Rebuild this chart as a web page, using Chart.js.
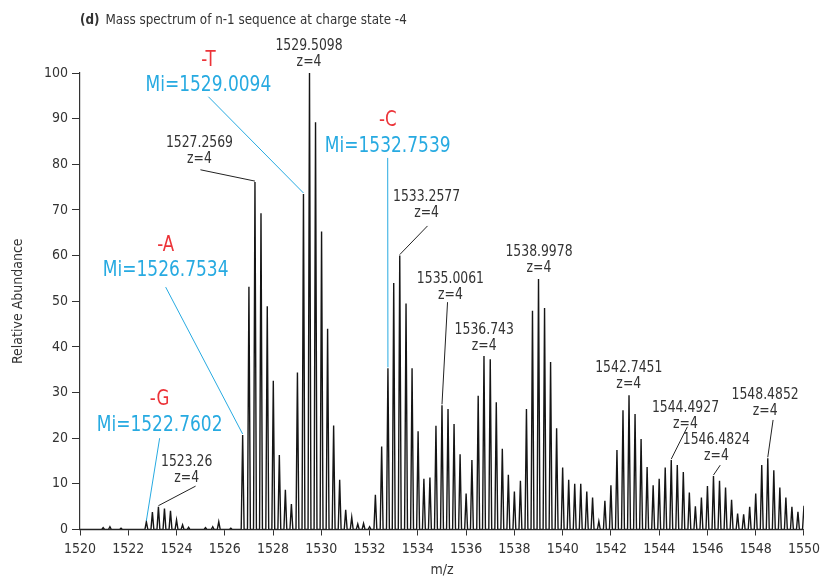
<!DOCTYPE html>
<html>
<head>
<meta charset="utf-8">
<script src="https://cdn.jsdelivr.net/npm/chart.js@4"></script>
<style>
  html, body { margin: 0; padding: 0; background: #fff; }
</style>
</head>
<body>
<canvas id="espectro" width="825" height="579"></canvas>
<script>
// Picos do espectro (m/z e abundância relativa)
const mzPicos = [
  1520.96, 1521.24, 1521.70, 1522.75, 1523.00, 1523.25, 1523.50, 1523.75, 1524.00, 1524.25,
  1524.50, 1525.20, 1525.50, 1525.75, 1526.25, 1526.74, 1527.00, 1527.25, 1527.50, 1527.76,
  1528.01, 1528.26, 1528.51, 1528.76, 1529.01, 1529.26, 1529.51, 1529.76, 1530.01, 1530.26,
  1530.51, 1530.76, 1531.01, 1531.26, 1531.51, 1531.75, 1532.00, 1532.24, 1532.50, 1532.76,
  1533.00, 1533.25, 1533.51, 1533.76, 1534.01, 1534.25, 1534.50, 1534.75, 1535.00, 1535.25,
  1535.50, 1535.75, 1536.00, 1536.24, 1536.50, 1536.74, 1537.00, 1537.25, 1537.50, 1537.75,
  1538.00, 1538.25, 1538.50, 1538.75, 1539.00, 1539.25, 1539.50, 1539.75, 1540.00, 1540.25,
  1540.50, 1540.75, 1541.00, 1541.24, 1541.50, 1541.75, 1542.00, 1542.25, 1542.50, 1542.75,
  1543.00, 1543.25, 1543.50, 1543.75, 1544.00, 1544.25, 1544.50, 1544.75, 1545.00, 1545.25,
  1545.50, 1545.75, 1546.00, 1546.25, 1546.50, 1546.75, 1547.00, 1547.25, 1547.50, 1547.75,
  1548.00, 1548.25, 1548.50, 1548.75, 1549.00, 1549.25, 1549.50, 1549.75, 1550.00
];
const abundancia = [
  0.4, 0.6, 0.3, 1.7, 3.8, 5.0, 4.6, 4.1, 2.1, 1.0,
  0.5, 0.4, 0.6, 1.7, 0.3, 20.7, 53.2, 76.1, 69.3, 48.9,
  32.6, 16.3, 8.7, 5.6, 34.4, 73.5, 100, 89.2, 65.3, 44.0,
  22.8, 10.9, 4.3, 2.7, 1.2, 1.3, 0.6, 7.6, 18.2, 35.3,
  54.0, 60.0, 49.5, 35.3, 21.5, 11.1, 11.4, 22.7, 27.2, 26.4,
  23.1, 16.5, 7.9, 15.2, 29.3, 38.0, 37.3, 27.9, 17.7, 12.0,
  8.3, 10.7, 26.4, 47.9, 54.9, 48.5, 36.7, 22.2, 13.6, 10.9,
  10.0, 10.0, 8.3, 7.0, 1.8, 6.3, 9.7, 17.4, 26.1, 29.4,
  25.3, 19.8, 13.7, 9.7, 11.1, 13.6, 15.2, 14.1, 12.6, 8.1,
  5.1, 7.0, 9.5, 11.7, 10.7, 9.2, 6.5, 3.5, 3.3, 5.0,
  7.9, 14.1, 15.6, 13.0, 9.2, 7.0, 5.0, 3.9, 5.2
];
const ticksX = [1520, 1522, 1524, 1526, 1528, 1530, 1532, 1534, 1536, 1538, 1540, 1542, 1544, 1546, 1548, 1550];
const ticksY = [0, 10, 20, 30, 40, 50, 60, 70, 80, 90, 100];

// Rótulos dos picos (texto e pico indicado)
const rotulosTexto = ['1529.5098', '1527.2569', '1533.2577', '1535.0061', '1536.743', '1538.9978',
  '1542.7451', '1544.4927', '1546.4824', '1548.4852', '1523.26'];
const rotulosPico = [1529.51, 1527.25, 1533.25, 1535.00, 1536.74, 1539.00,
  1542.75, 1544.50, 1546.25, 1548.50, 1523.25];

// Perdas de base e massa monoisotópica
const perdas = ['-T', '-C', '-A', '-G'];
const massasMi = ['Mi=1529.0094', 'Mi=1532.7539', 'Mi=1526.7534', 'Mi=1522.7602'];
const perdasPico = [1529.26, 1532.76, 1526.74, 1522.75];

// Posição dos rótulos (em unidades do gráfico), separada dos dados
const posRotulos = [
  { ancora: [1529.49, 105.8] },
  { ancora: [1524.95, 84.7], guia: [1524.99, 78.8] },
  { ancora: [1534.36, 72.8], guia: [1534.40, 66.5] },
  { ancora: [1535.35, 54.9], guia: [1535.23, 49.8] },
  { ancora: [1536.75, 43.7] },
  { ancora: [1539.02, 60.8] },
  { ancora: [1542.74, 35.4] },
  { ancora: [1545.09, 26.6], guia: [1545.17, 22.5] },
  { ancora: [1546.37, 19.6], guia: [1546.53, 14.1] },
  { ancora: [1548.39, 29.5], guia: [1548.72, 24.0] },
  { ancora: [1524.42, 14.8], guia: [1524.79, 9.5] }
];
const posPerdas = [
  { ancora: [1525.32, 102.8], guia: [1525.32, 94.8] },
  { ancora: [1532.75, 89.5], guia: [1532.75, 81.4] },
  { ancora: [1523.55, 62.3], guia: [1523.55, 53.1] },
  { ancora: [1523.30, 28.4], guia: [1523.30, 20.0] }
];

const FONTE = '"Liberation Sans Narrow", "DejaVu Sans Condensed", "Roboto", sans-serif';
const VERMELHO = '#ec3338';
const CIANO = '#27aae1';
const MEIA_LARGURA = 0.06;

// Monta o perfil (cada pico vira um triângulo estreito sobre a linha de base)
const perfil = [{ x: 1520, y: 0 }];
mzPicos.forEach((mz, i) => {
  perfil.push({ x: mz - MEIA_LARGURA, y: 0 });
  perfil.push({ x: mz, y: abundancia[i] });
  perfil.push({ x: mz + MEIA_LARGURA, y: 0 });
});

function alturaDoPico(mz) {
  let melhor = 0;
  mzPicos.forEach((m, i) => {
    if (Math.abs(m - mz) < Math.abs(mzPicos[melhor] - mz)) melhor = i;
  });
  return abundancia[melhor];
}

// texto estreitado horizontalmente (a fonte original é condensada)
function textoEstreito(ctx, txt, x, y, fator, alinhamento) {
  ctx.save();
  ctx.translate(x, y);
  ctx.scale(fator, 1);
  ctx.textAlign = alinhamento || 'center';
  ctx.fillText(txt, 0, 0);
  ctx.restore();
}

const pluginAnotacoes = {
  id: 'anotacoes',
  afterDraw(chart) {
    const { ctx, scales: { x, y } } = chart;
    const px = v => x.getPixelForValue(v);
    const py = v => y.getPixelForValue(v);
    ctx.save();
    ctx.textBaseline = 'middle';

    // título
    ctx.fillStyle = '#333';
    ctx.font = 'bold 14px ' + FONTE;
    textoEstreito(ctx, '(d)', 80, 20, 0.95, 'left');
    const w = ctx.measureText('(d)').width * 0.95;
    ctx.font = '14px ' + FONTE;
    textoEstreito(ctx, 'Mass spectrum of n-1 sequence at charge state -4', 80 + w + 6, 20, 0.95, 'left');

    // rótulos pretos
    rotulosTexto.forEach((txt, i) => {
      const p = posRotulos[i];
      const ax = px(p.ancora[0]), ay = py(p.ancora[1]);
      ctx.fillStyle = '#333';
      ctx.font = '15px ' + FONTE;
      textoEstreito(ctx, txt, ax, ay, 0.92);
      textoEstreito(ctx, 'z=4', ax, ay + 16, 0.92);
      if (p.guia) {
        ctx.strokeStyle = '#222';
        ctx.lineWidth = 1;
        ctx.beginPath();
        ctx.moveTo(px(p.guia[0]), py(p.guia[1]));
        ctx.lineTo(px(rotulosPico[i]), py(alturaDoPico(rotulosPico[i])) - 1);
        ctx.stroke();
      }
    });

    // perdas (vermelho) e Mi (ciano)
    perdas.forEach((txt, i) => {
      const p = posPerdas[i];
      const ax = px(p.ancora[0]), ay = py(p.ancora[1]);
      ctx.fillStyle = VERMELHO;
      ctx.font = '21px ' + FONTE;
      textoEstreito(ctx, txt, ax, ay, 0.88);
      ctx.fillStyle = CIANO;
      ctx.font = '22px ' + FONTE;
      textoEstreito(ctx, massasMi[i], ax, ay + 25, 0.86);
      ctx.strokeStyle = CIANO;
      ctx.lineWidth = 1;
      ctx.beginPath();
      ctx.moveTo(px(p.guia[0]), py(p.guia[1]));
      ctx.lineTo(px(perdasPico[i]), py(alturaDoPico(perdasPico[i])) - 1);
      ctx.stroke();
    });
    ctx.restore();
  }
};

const ctx = document.getElementById('espectro').getContext('2d');
new Chart(ctx, {
  type: 'scatter',
  data: {
    datasets: [{
      data: perfil,
      showLine: true,
      borderColor: '#151515',
      borderWidth: 1.4,
      pointRadius: 0,
      tension: 0,
      clip: 0
    }]
  },
  options: {
    responsive: false,
    animation: false,
    devicePixelRatio: 1,
    layout: { padding: { top: 73, right: 18, left: 0, bottom: 0 } },
    plugins: { legend: { display: false }, tooltip: { enabled: false } },
    scales: {
      x: {
        type: 'linear',
        min: 1520,
        max: 1550,
        afterBuildTicks: s => { s.ticks = ticksX.map(v => ({ value: v })); },
        afterFit: s => { s.height = 49.5; },
        grid: { drawOnChartArea: false, tickLength: 6, color: '#333' },
        border: { color: '#333', width: 1.2 },
        ticks: {
          autoSkip: false, maxRotation: 0, padding: 5, color: '#333',
          font: { family: FONTE, size: 14 },
          callback: v => String(v)
        },
        title: { display: true, text: 'm/z', color: '#333', padding: 0, font: { family: FONTE, size: 14 } }
      },
      y: {
        min: 0,
        max: 100,
        afterBuildTicks: s => { s.ticks = ticksY.map(v => ({ value: v })); },
        afterFit: s => { s.width = 80; },
        grid: { drawOnChartArea: false, tickLength: 8, color: '#333' },
        border: { color: '#333', width: 1.2 },
        ticks: { padding: 4, color: '#333', font: { family: FONTE, size: 14 }, callback: v => String(v) },
        title: { display: true, text: 'Relative Abundance', color: '#333', padding: { top: 10, bottom: 0 }, font: { family: FONTE, size: 14 } }
      }
    }
  },
  plugins: [pluginAnotacoes]
});
</script>
</body>
</html>
